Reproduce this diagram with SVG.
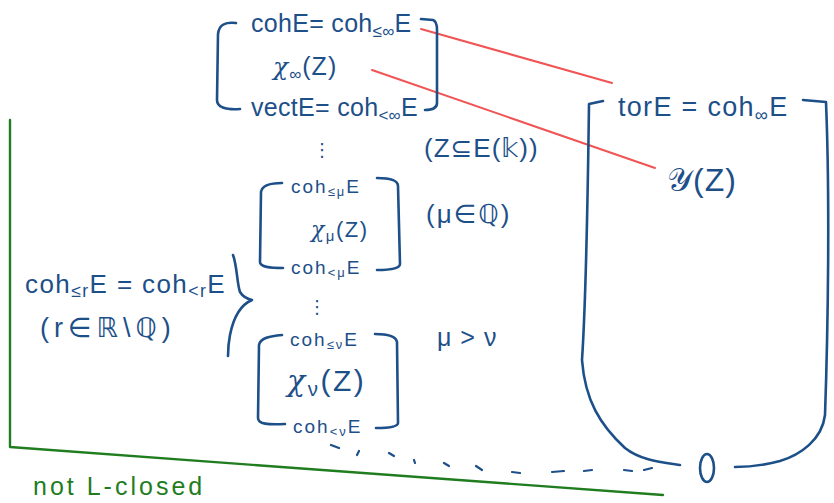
<svg xmlns="http://www.w3.org/2000/svg" width="834" height="503" viewBox="0 0 834 503">
<defs>
<style>
.ink{fill:none;stroke:#1d4f89;stroke-width:2.6;stroke-linecap:round;stroke-linejoin:round}
.red{fill:none;stroke:#f05454;stroke-width:2;stroke-linecap:round}
.grn{fill:none;stroke:#1f7d1f;stroke-width:2.4;stroke-linecap:round;stroke-linejoin:round}
.dash{fill:none;stroke:#1d4f89;stroke-width:2.2;stroke-linecap:round}
text{font-family:"Liberation Sans","DejaVu Sans",sans-serif;fill:#1d4f89}
.sub{font-size:68%}
.gt{fill:#1f7d1f}
.it{font-style:italic;font-family:"DejaVu Serif",serif}
</style>
</defs>
<rect width="834" height="503" fill="#ffffff"/>

<g id="green-frame">
<path class="grn" d="M10,120 L10,447 L663,495"/>
<text class="gt" x="33" y="495" font-size="25" letter-spacing="3">not L-closed</text>
</g>

<g id="connectors">
<path class="red" d="M421,29 L612,83"/>
<path class="red" d="M372,70 L655,168"/>
<path class="dash" d="M331,445 L339,448 M357,455 L359,451 M389,453 L394,456 M414,460 L415,463 M444,463 L449,466 M476,466 L482,470 M512,472 L520,473 M552,472 L564,471 M584,471 L592,470 M624,470 L632,471 M644,470 L652,468"/>
</g>

<g id="node-infinity">
<path class="ink" d="M236,23 C226,22 219,24 218,34 L217,100 C217,107 225,110 240,109"/>
<path class="ink" d="M421,19 L433,20 C436,21 437,24 437,30 L437,103 C437,108 433,110 425,110"/>
<text x="251" y="32" font-size="25" letter-spacing="0.3">cohE= coh<tspan class="sub" dy="5">≤∞</tspan><tspan dy="-5">E</tspan></text>
<text x="273" y="75" font-size="25" letter-spacing="1"><tspan class="it">χ</tspan><tspan class="sub" dy="5">∞</tspan><tspan dy="-5">(Z)</tspan></text>
<text x="251" y="116" font-size="25" letter-spacing="0.3">vectE= coh<tspan class="sub" dy="5">&lt;∞</tspan><tspan dy="-5">E</tspan></text>
</g>

<g id="label-Z">
<text x="322" y="156" font-size="18" text-anchor="middle">⋮</text>
<text x="424" y="157" font-size="26" letter-spacing="1">(Z⊆E(𝕜))</text>
</g>

<g id="node-mu">
<path class="ink" d="M282,183 C270,183 262,185 261,192 L260,262 C260,267 270,268 283,268"/>
<path class="ink" d="M377,178 C390,178 398,180 398,186 L400,264 C400,268 392,270 377,270"/>
<text x="291" y="193" font-size="19" letter-spacing="2">coh<tspan class="sub" dy="3">≤μ</tspan><tspan dy="-3">E</tspan></text>
<text x="311" y="237" font-size="22" letter-spacing="1.5"><tspan class="it">χ</tspan><tspan class="sub" dy="4">μ</tspan><tspan dy="-4">(Z)</tspan></text>
<text x="291" y="274" font-size="19" letter-spacing="2">coh<tspan class="sub" dy="3">&lt;μ</tspan><tspan dy="-3">E</tspan></text>
<text x="426" y="223" font-size="26" letter-spacing="2">(μ∈ℚ)</text>
</g>

<g id="node-r">
<text x="317" y="313" font-size="18" text-anchor="middle">⋮</text>
<path class="ink" d="M233,255 C237,265 237,284 240,292 C243,297 248,299 252,300 C240,305 233,320 230,335 C228,345 228,350 228,356"/>
<text x="25" y="293" font-size="26" letter-spacing="1.4">coh<tspan class="sub" dy="4">≤r</tspan><tspan dy="-4">E = coh</tspan><tspan class="sub" dy="4">&lt;r</tspan><tspan dy="-4">E</tspan></text>
<text x="40" y="337" font-size="27" letter-spacing="5">(r∈ℝ\ℚ)</text>
</g>

<g id="node-nu">
<path class="ink" d="M282,335 C270,336 260,338 259,345 L258,418 C258,424 268,425 285,424"/>
<path class="ink" d="M375,334 C388,334 396,336 397,342 L398,423 C398,427 388,428 376,428"/>
<text x="290" y="346" font-size="19" letter-spacing="2">coh<tspan class="sub" dy="3">≤ν</tspan><tspan dy="-3">E</tspan></text>
<text x="287" y="391" font-size="30" letter-spacing="2.5"><tspan class="it">χ</tspan><tspan class="sub" dy="5">ν</tspan><tspan dy="-5">(Z)</tspan></text>
<text x="293" y="433" font-size="19" letter-spacing="2">coh<tspan class="sub" dy="3">&lt;ν</tspan><tspan dy="-3">E</tspan></text>
<text x="437" y="346" font-size="25" letter-spacing="1">μ &gt; ν</text>
</g>

<g id="node-tor">
<path class="ink" d="M603,101 L589,104 C588,180 586,300 582,360 C585,400 600,425 625,448 C640,460 660,462 680,465"/>
<path class="ink" d="M803,100 L826,102 C830,200 828,330 825,415 C822,440 800,455 780,461 C765,465 750,467 735,467"/>
<text x="618" y="116" font-size="27" letter-spacing="1.3">torE = coh<tspan class="sub" dy="5">∞</tspan><tspan dy="-5">E</tspan></text>
<text x="667" y="191" font-size="32" letter-spacing="1">𝒴(Z)</text>
</g>

<g id="node-zero">
<ellipse class="ink" cx="707" cy="468" rx="7" ry="14"/>
</g>
</svg>
